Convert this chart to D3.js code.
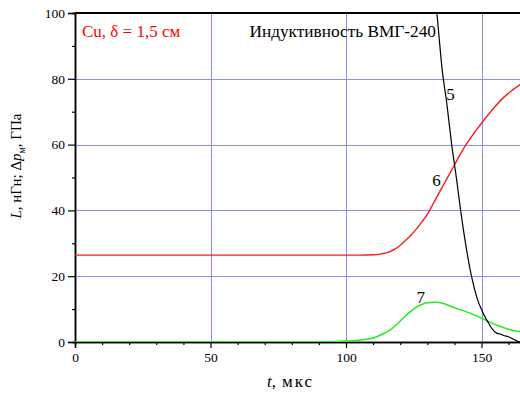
<!DOCTYPE html>
<html><head><meta charset="utf-8">
<script src="https://cdn.jsdelivr.net/npm/d3@7"></script>
<style>
html,body{margin:0;padding:0;background:#fff;overflow:hidden}
svg{display:block}
svg text{font-family:"Liberation Serif","Times New Roman",serif}
</style></head>
<body>
<svg id="c" width="520" height="396"></svg>
<script>
// ---- data ----
const xMajorTicks = [0, 50, 100, 150];
const xMinorTicks = [10, 20, 30, 40, 60, 70, 80, 90, 110, 120, 130, 140, 160];
const yMajorTicks = [0, 20, 40, 60, 80, 100];
const yMinorTicks = [10, 30, 50, 70, 90];
const xGrid = [50, 100, 150];
const yGrid = [20, 40, 60, 80];

// curve 6 (red)
const t6 = [0, 105, 110, 113, 116, 118, 120, 122, 124, 126, 128, 130, 132, 134, 136, 138, 140, 142, 144, 146, 148, 150, 152, 155, 158, 161, 164.5];
const v6 = [26.4, 26.4, 26.5, 26.8, 27.4, 28.2, 29.4, 30.9, 32.5, 34.4, 36.5, 38.8, 41.8, 44.8, 47.8, 50.8, 53.8, 56.8, 59.6, 62.0, 64.3, 66.5, 68.6, 71.6, 74.2, 76.3, 78.4];

// curve 5 (black)
const t5 = [131.5, 133.5, 135.5, 137.2, 139, 140.8, 142.3, 144, 146.3, 148.3, 150.3, 152.3, 154, 155.6, 157, 158.5, 159.9, 161, 162.4, 163.6, 164.5];
const v5 = [112, 100, 82.7, 72.5, 60, 49.5, 40, 30.5, 20, 13.5, 9.3, 6.2, 3.9, 2.7, 2.4, 1.9, 1.6, 1.2, 0.6, 0.1, 0];

// curve 7 (green)
const t7 = [0, 85, 95, 100, 105, 110, 113, 116, 118, 120, 122, 124, 126, 128, 130, 133, 136, 140, 144, 148, 152, 156, 160, 164.5];
const v7 = [0, 0, 0.1, 0.3, 0.6, 1.2, 2.2, 3.5, 4.8, 6.4, 8.0, 9.4, 10.6, 11.4, 11.9, 12.1, 11.7, 10.4, 9.3, 8.0, 6.5, 5.0, 3.9, 3.1];

const curveLabels = [
  {text: "5", t: 138.6, v: 73.5},
  {text: "6", t: 133.4, v: 47.5},
  {text: "7", t: 127.6, v: 11.8}
];

// ---- drawing ----
const FONT = '"Liberation Serif", "Times New Roman", serif';
const svg = d3.select("#c");
const L = 75, T = 13, B = 342;
const x = d3.scaleLinear().domain([0, 170]).range([L, L + 170 * 2.71]);
const y = d3.scaleLinear().domain([0, 100]).range([B, T]);

svg.append("defs").append("clipPath").attr("id", "clip")
  .append("rect").attr("x", L).attr("y", T).attr("width", 520 - L).attr("height", B - T);

// grid
const g = svg.append("g");
g.selectAll(".gx").data(xGrid).join("line")
  .attr("x1", d => Math.round(x(d)) + 0.5).attr("x2", d => Math.round(x(d)) + 0.5)
  .attr("y1", T).attr("y2", B).attr("stroke", "#8a8aff").attr("stroke-width", 1);
g.selectAll(".gy").data(yGrid).join("line")
  .attr("x1", L).attr("x2", 520)
  .attr("y1", d => Math.round(y(d)) + 0.5).attr("y2", d => Math.round(y(d)) + 0.5)
  .attr("stroke", "#8a8aff").attr("stroke-width", 1);

// axes
const xAxis = d3.axisBottom(x).tickValues(xMajorTicks).tickSize(6).tickPadding(4).tickFormat(d3.format("d"));
const xAxisMinor = d3.axisBottom(x).tickValues(xMinorTicks).tickSize(3).tickFormat("");
const yAxis = d3.axisLeft(y).tickValues(yMajorTicks).tickSize(7).tickPadding(3).tickFormat(d3.format("d"));
const yAxisMinor = d3.axisLeft(y).tickValues(yMinorTicks).tickSize(3).tickFormat("");

function styleAxis(sel) {
  sel.attr("font-family", null);
  sel.select(".domain").attr("stroke", "#000").attr("stroke-width", 1.5);
  sel.selectAll(".tick line").attr("stroke", "#000").attr("stroke-width", 1.2);
  sel.selectAll("text").style("font-family", FONT).style("font-size", "13.5px").attr("fill", "#000");
}
svg.append("g").attr("transform", `translate(0,${B})`).call(xAxisMinor).call(styleAxis);
svg.append("g").attr("transform", `translate(0,${B})`).call(xAxis).call(styleAxis);
svg.append("g").attr("transform", `translate(${L},0)`).call(yAxisMinor).call(styleAxis);
svg.append("g").attr("transform", `translate(${L},0)`).call(yAxis).call(styleAxis);

// top border
svg.append("line").attr("x1", L).attr("x2", 520).attr("y1", T).attr("y2", T)
  .attr("stroke", "#000").attr("stroke-width", 1.8);

// curves
const plot = svg.append("g").attr("clip-path", "url(#clip)");
const line = d3.line().x(d => x(d[0])).y(d => y(d[1])).curve(d3.curveMonotoneX);
const series = [
  {t: t6, v: v6, color: "#ff1a1a", w: 1.4},
  {t: t7, v: v7, color: "#22ee22", w: 1.5},
  {t: t5, v: v5, color: "#000", w: 1.2}
];
series.forEach(s => {
  plot.append("path").datum(s.t.map((t, i) => [t, s.v[i]]))
    .attr("d", line).attr("fill", "none").attr("stroke", s.color).attr("stroke-width", s.w);
});

// curve labels
svg.selectAll(".cl").data(curveLabels).join("text")
  .attr("x", d => x(d.t)).attr("y", d => y(d.v)).attr("text-anchor", "middle")
  .style("font-family", FONT).style("font-size", "17px").attr("fill", "#000").text(d => d.text);

// annotations
svg.append("text").attr("x", 82).attr("y", 37).style("font-family", FONT).style("font-size", "17px").attr("fill", "#ff0000")
  .text("Cu, δ = 1,5 см");
svg.append("text").attr("x", 436).attr("y", 37).style("font-family", FONT).style("font-size", "17.3px").attr("fill", "#000")
  .attr("text-anchor", "end").text("Индуктивность ВМГ-240");

// x label
const xl = svg.append("text").attr("x", 267).attr("y", 387)
  .style("font-family", FONT).style("font-size", "17px");
xl.append("tspan").style("font-style", "italic").text("t");
xl.append("tspan").text(",");
xl.append("tspan").attr("x", 282).style("letter-spacing", "2px").text("мкс");

// y label
const yl = svg.append("text").attr("transform", "translate(21,166) rotate(-90)")
  .attr("text-anchor", "middle").style("font-family", FONT).style("font-size", "15px");
yl.append("tspan").style("font-style", "italic").text("L");
yl.append("tspan").text(", нГн; Δ");
yl.append("tspan").style("font-style", "italic").text("p");
yl.append("tspan").style("font-size", "10px").attr("dy", 4).text("м");
yl.append("tspan").attr("dy", -4).text(", ГПа");
</script>
</body></html>
